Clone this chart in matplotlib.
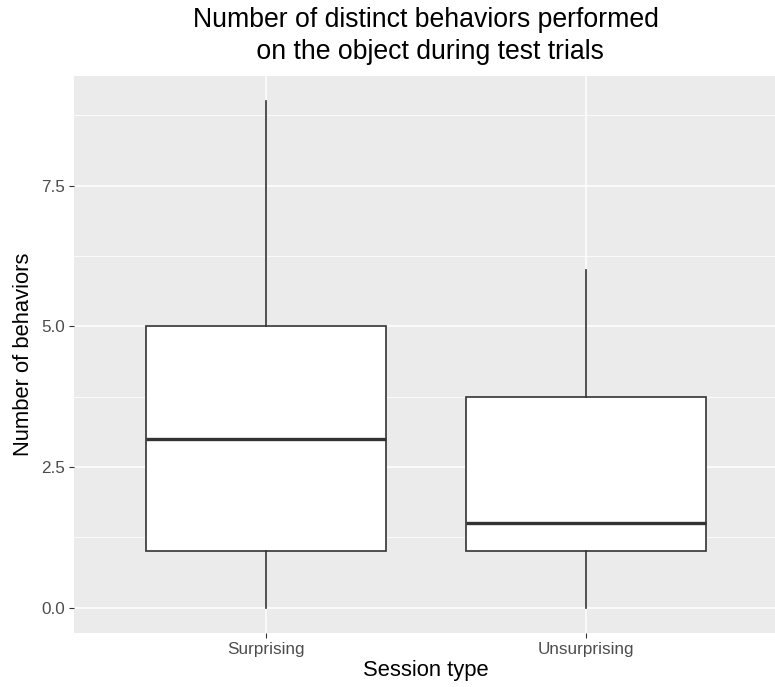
import matplotlib
matplotlib.use("Agg")
import matplotlib.pyplot as plt
import numpy as np

plt.rcParams['font.family'] = ['Liberation Sans', 'DejaVu Sans']

# box stats
sessions = ["Surprising", "Unsurprising"]
mins = [0, 0]
q1s = [1, 1]
medians = [3, 1.5]
q3s = [5, 3.75]
maxs = [9, 6]

yticks = [0.0, 2.5, 5.0, 7.5]
yminor = [1.25, 3.75, 6.25, 8.75]

stats = []
for i in range(len(sessions)):
    stats.append(dict(label=sessions[i], whislo=mins[i], q1=q1s[i], med=medians[i],
                      q3=q3s[i], whishi=maxs[i], fliers=[]))

fig = plt.figure(figsize=(7.75, 6.87), dpi=100)
ax = fig.add_axes([74/775, 54/687, 704/775, 557/687])
ax.set_facecolor('#EBEBEB')

ax.bxp(stats, positions=[1, 2], widths=0.75, showcaps=False, showfliers=False,
       patch_artist=True,
       boxprops=dict(facecolor='white', edgecolor='#333333', linewidth=1.2),
       whiskerprops=dict(color='#333333', linewidth=1.2),
       medianprops=dict(color='#333333', linewidth=2.4, solid_capstyle='butt'),
       zorder=3)

ax.set_xlim(0.4, 2.6)
ax.set_ylim(-0.45, 9.45)
ax.set_yticks(yticks)
ax.set_yticklabels(["0.0", "2.5", "5.0", "7.5"])
ax.set_yticks(yminor, minor=True)
ax.set_xticks([1, 2])
ax.set_xticklabels(sessions)

ax.grid(which='major', color='white', linewidth=1.1, zorder=0)
ax.grid(which='minor', axis='y', color='white', linewidth=0.55, zorder=0)
ax.set_axisbelow(True)
for s in ax.spines.values():
    s.set_visible(False)

ax.tick_params(which='major', length=3.5, width=0.8, color='#333333',
               labelcolor='#4D4D4D', labelsize=12.3, pad=3)
ax.tick_params(which='minor', length=0)

ax.set_xlabel("Session type", fontsize=15.8, labelpad=2)
ax.set_ylabel("Number of behaviors", fontsize=15.8, labelpad=5)
fig.text(426/775, 1 - 36/687, "Number of distinct behaviors performed\n on the object during test trials",
         ha='center', va='center', fontsize=19.2, linespacing=1.3)

fig.savefig("out.png", dpi=100)
